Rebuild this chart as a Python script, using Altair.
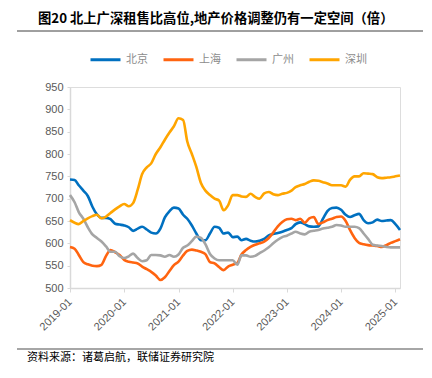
import altair as alt
import pandas as pd

cities = ["北京", "上海", "广州", "深圳"]
colors = ["#0070C0", "#FF6410", "#A5A5A5", "#FFA500"]

beijing = [743, 742, 730, 718, 706, 682, 665, 657, 657, 654, 644, 642, 640, 636, 628, 633,
           637, 631, 624, 622, 633, 658, 672, 680, 678, 664, 655, 640, 622, 607, 607, 622,
           637, 635, 622, 624, 614, 615, 607, 610, 606, 604, 606, 610, 618, 621, 623, 626,
           630, 634, 643, 647, 643, 638, 637, 638, 655, 672, 679, 680, 675, 664, 659, 663,
           666, 652, 645, 647, 653, 650, 651, 652, 643, 630]
shanghai = [592, 588, 574, 558, 553, 550, 549, 552, 572, 585, 580, 574, 563, 559, 557, 555,
            548, 542, 536, 528, 518, 524, 538, 551, 559, 573, 583, 586, 584, 581, 576, 558,
            555, 547, 540, 548, 552, 556, 575, 585, 592, 597, 600, 604, 612, 624, 638, 648,
            654, 655, 652, 655, 646, 656, 659, 643, 647, 652, 655, 659, 660, 650, 630, 612,
            601, 598, 596, 595, 594, 592, 596, 601, 605, 609]
guangzhou = [708, 692, 670, 655, 636, 620, 612, 604, 593, 581, 581, 571, 567, 571, 577, 567,
             560, 562, 574, 574, 573, 570, 574, 570, 575, 590, 595, 605, 615, 612, 598, 576,
             566, 562, 562, 562, 562, 552, 573, 573, 570, 572, 578, 584, 591, 600, 608, 614,
             617, 622, 626, 622, 620, 626, 628, 630, 633, 635, 637, 641, 640, 637, 637, 637,
             634, 622, 610, 597, 595, 594, 592, 591, 591, 591]
shenzhen = [652, 646, 643, 650, 656, 661, 664, 656, 660, 668, 676, 683, 688, 683, 690, 720,
            755, 770, 779, 800, 815, 832, 848, 862, 880, 876, 828, 800, 771, 735, 718, 708,
            700, 696, 674, 685, 708, 708, 705, 704, 711, 704, 700, 712, 715, 710, 708, 711,
            713, 718, 726, 730, 733, 738, 741, 740, 737, 734, 730, 730, 730, 727, 742, 750,
            750, 757, 756, 755, 748, 746, 747, 748, 750, 752]

months = pd.date_range("2019-01-01", periods=len(beijing), freq="MS").strftime("%Y-%m-%d").tolist()
year_ticks = [2019, 2020, 2021, 2022, 2023, 2024, 2025]

title_text = "图20 北上广深租售比高位,地产价格调整仍有一定空间（倍）"
source_text = "资料来源：诸葛启航，联储证券研究院"

rows = []
for city, series in zip(cities, [beijing, shanghai, guangzhou, shenzhen]):
    for d, v in zip(months, series):
        rows.append({"date": d, "city": city, "value": v})
df = pd.DataFrame(rows)

axis_font = "Liberation Sans"
cjk = "Noto Sans CJK SC"

lines = alt.Chart(df).mark_line(strokeWidth=2.6, interpolate="monotone").encode(
    x=alt.X("date:T",
            scale=alt.Scale(type="utc",
                            domain=[alt.DateTime(year=2019, month=1, date=1, utc=True),
                                    alt.DateTime(year=2025, month=2, date=1, utc=True)]),
            axis=alt.Axis(values=[alt.DateTime(year=y, month=1, date=1, utc=True) for y in year_ticks],
                          labelExpr="utcFormat(datum.value, '%Y-%m')", labelAngle=-45,
                          labelAlign="right", labelBaseline="middle",
                          labelFontSize=11, labelFont=axis_font, labelColor="#595959",
                          domainColor="#D9D9D9", domainWidth=1.5, tickColor="#D9D9D9",
                          tickSize=4, labelPadding=8, grid=False, title=None,
                          labelOverlap=False)),
    y=alt.Y("value:Q", scale=alt.Scale(domain=[500, 950], nice=False, zero=False),
            axis=alt.Axis(values=list(range(500, 951, 50)), labelFontSize=11, labelFont=axis_font,
                          labelColor="#595959", domainColor="#D9D9D9", domainWidth=1.5,
                          tickColor="#D9D9D9", tickSize=3, labelPadding=4, grid=False,
                          title=None)),
    color=alt.Color("city:N", sort=cities,
                    scale=alt.Scale(domain=cities, range=colors),
                    legend=alt.Legend(orient="none", legendX=19, legendY=-44,
                                      direction="horizontal", title=None,
                                      symbolType="stroke", symbolSize=900, symbolStrokeWidth=3,
                                      labelFont=cjk, labelFontSize=11, labelColor="#8C8C8C",
                                      labelOffset=4, columnPadding=9, padding=0)),
    order=alt.Order("date:T"),
)

title = alt.Chart(pd.DataFrame({"t": [title_text]})).mark_text(
    align="left", baseline="middle", font=cjk, fontSize=13.3, fontWeight="bold", color="#000000"
).encode(x=alt.value(-32), y=alt.value(-68), text="t:N")

top_rule = alt.Chart(pd.DataFrame({"a": [0]})).mark_rule(color="#404040", strokeWidth=1).encode(
    x=alt.value(-53), x2=alt.value(353), y=alt.value(-56))

bottom_rule = alt.Chart(pd.DataFrame({"a": [0]})).mark_rule(color="#A6A6A6", strokeWidth=2).encode(
    x=alt.value(-53), x2=alt.value(353), y=alt.value(262))

source = alt.Chart(pd.DataFrame({"t": [source_text]})).mark_text(
    align="left", baseline="middle", font=cjk, fontSize=11, color="#000000"
).encode(x=alt.value(-43), y=alt.value(271), text="t:N")

chart = alt.layer(lines, title, top_rule, bottom_rule, source).properties(
    width=330, height=201,
    autosize=alt.AutoSizeParams(type="none"),
    padding={"left": 62, "top": 79, "right": 24, "bottom": 82},
).configure_view(stroke=None).configure(background="white")

chart.save("out.html", embed_options={"renderer": "svg", "actions": False})
